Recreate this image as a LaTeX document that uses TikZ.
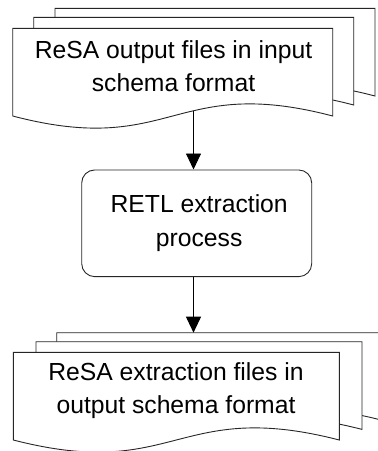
\documentclass[tikz,border=0pt]{standalone}
\usepackage{fontspec}
\setmainfont{Liberation Sans}
\usetikzlibrary{arrows.meta}

\newcommand{\docpage}[4]{%
	\draw [page] (#1,#2+#4) -- (#1,#2) -- (#1+#3,#2) -- (#1+#3,#2+#4) .. controls (#1+#3/2,#2+#4-42) and (#1+#3/2,#2+#4+42) .. (#1,#2+#4) -- cycle ;}

\begin{document}
\begin{tikzpicture}[x=1pt,y=1pt,yscale=-1,xscale=1,
	page/.style={draw=black!85,line width=0.9pt,fill=white},
	lbl/.style={font=\fontsize{24.7}{33.5}\selectfont,align=center,inner sep=0pt},
	procbox/.style={draw=black!85,line width=0.9pt,rounded corners=13pt,minimum width=230pt,minimum height=106.7pt},
	flow/.style={draw=black,line width=0.9pt,-{Triangle[length=16pt,width=15pt]}}]
	\clip (0,0) rectangle (378,451);
	\docpage{55}{8.3}{320}{87.7}
	\docpage{33.7}{17.3}{320}{87.7}
	\docpage{12.7}{28.3}{320}{87.7}
	\node [lbl] (infiles) at (173.5,66) {ReSA output files in input\\schema format};
	\node [procbox,lbl] (retl) at (196.7,223.3) {\hspace*{5pt}RETL extraction\\\hspace*{5pt}process};
	\docpage{56.7}{332.7}{326}{87.7}
	\docpage{36}{341.7}{326}{87.7}
	\docpage{13.3}{352.3}{326}{87.7}
	\node [lbl] (outfiles) at (176,390.5) {ReSA extraction files in\\output schema format};
	\coordinate (wavein) at (193.5,110.8);
	\coordinate (stackout) at (193.5,332.7);
	\draw [flow] (wavein) -- (wavein |- retl.north);
	\draw [flow] (stackout |- retl.south) -- (stackout);
\end{tikzpicture}
\end{document}
